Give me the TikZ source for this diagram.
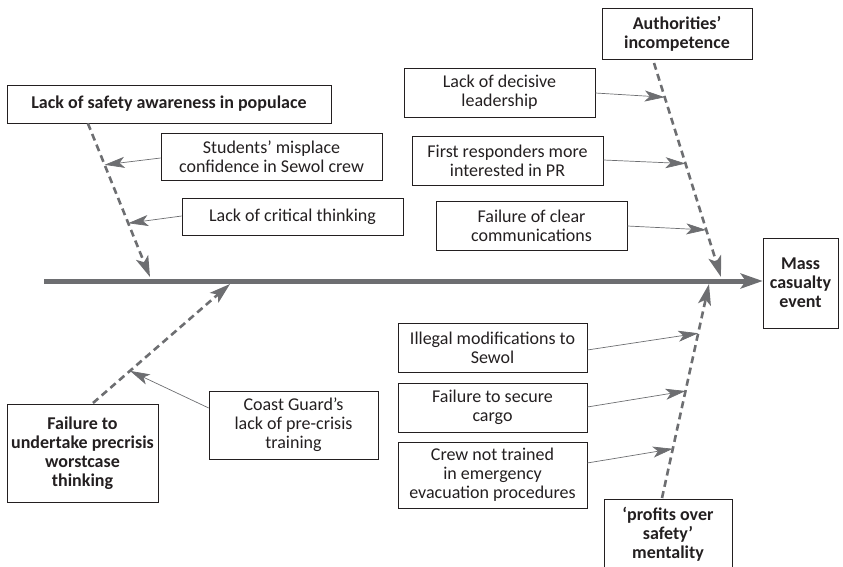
\documentclass[tikz,border=0pt]{standalone}
\usepackage{fontspec}
\setmainfont{Carlito}
\usetikzlibrary{calc,arrows.meta}
\definecolor{bonegray}{HTML}{6D6E71}
\definecolor{inkblack}{HTML}{231F20}

\begin{document}
\begin{tikzpicture}[x=1pt,y=-1pt,
	cause/.style={draw=inkblack, line width=0.6pt, align=center, inner sep=1pt,
		text=inkblack, font=\fontsize{18}{19}\selectfont},
	head/.style={cause, font=\fontsize{18}{19}\selectfont\bfseries},
	bone/.style={draw=bonegray, line width=2.6pt, dash pattern=on 7pt off 4.5pt,
		-{Stealth[length=21pt,width=13pt,inset=5pt]}},
	twig/.style={draw=bonegray, line width=0.7pt,
		-{Stealth[length=20pt,width=11pt,inset=5pt]}}]
	\useasboundingbox (0,0) rectangle (843,567);

	%effect
	\node[head, minimum width=75, minimum height=90] (mass) at (800.5,283) {Mass\\casualty\\event};

	%main causes
	\node[head, minimum width=324, minimum height=38] (safety) at (169,104) {Lack of safety awareness in populace};
	\node[head, minimum width=150, minimum height=51] (auth) at (677,33.5) {Authorities’\\incompetence};
	\node[head, minimum width=151, minimum height=98] (worst) at (82.5,453) {Failure to\\undertake precrisis\\worstcase\\thinking};
	\node[head, minimum width=128, minimum height=70] (profit) at (668,534) {‘profits over\\safety’\\mentality};

	%sub causes (top left)
	\node[cause, minimum width=221, minimum height=47] (misplace) at (271.5,156.5) {Students’ misplace\\confidence in Sewol crew};
	\node[cause, minimum width=221, minimum height=37] (critical) at (292.5,216.5) {Lack of critical thinking};

	%sub causes (top right)
	\node[cause, minimum width=191, minimum height=49] (leader) at (499.5,92.5) {Lack of decisive\\leadership};
	\node[cause, minimum width=191, minimum height=49] (pr) at (507.5,160.5) {First responders more\\interested in PR};
	\node[cause, minimum width=191, minimum height=49] (comms) at (531.5,225.5) {Failure of clear\\communications};

	%sub causes (bottom)
	\node[cause, minimum width=169, minimum height=68] (coast) at (293.5,425) {Coast Guard’s\\lack of pre-crisis\\training};
	\node[cause, minimum width=189, minimum height=49] (illegal) at (492.5,347.5) {Illegal modifications to\\Sewol};
	\node[cause, minimum width=189, minimum height=49] (cargo) at (492.5,407.5) {Failure to secure\\cargo};
	\node[cause, minimum width=189, minimum height=66] (crew) at (492.5,475) {Crew not trained\\in emergency\\evacuation procedures};

	%spine
	\coordinate (tail) at (44,281);
	\draw[draw=bonegray, line width=5pt, -{Stealth[length=22pt,width=15pt,inset=5pt]}] (tail) -- (mass.west |- tail);

	%bone ends
	\coordinate (b1s) at ($(safety.south west)!0.25!(safety.south east)$);
	\coordinate (b1e) at (150,277);
	\coordinate (b2s) at (654,63);
	\coordinate (b2e) at (721,277);
	\coordinate (b3s) at (662,498);
	\coordinate (b3e) at (709,284);
	\coordinate (b4s) at (93,403);
	\coordinate (b4e) at (230,284);

	%dashed bones
	\draw[bone] (b1s) -- (b1e);
	\draw[bone] (b2s) -- (b2e);
	\draw[bone] (b3s) -- (b3e);
	\draw[bone] (b4s) -- (b4e);

	%thin arrows onto the bones
	\draw[twig] (misplace.west |- 0,158) -- ($(b1s)!0.27!(b1e)$);
	\draw[twig] (critical.west |- 0,216) -- ($(b1s)!0.65!(b1e)$);
	\draw[twig] (leader.east |- 0,93) -- ($(b2s)!0.16!(b2e)$);
	\draw[twig] (pr.east |- 0,160) -- ($(b2s)!0.47!(b2e)$);
	\draw[twig] (comms.east |- 0,226) -- ($(b2s)!0.78!(b2e)$);
	\draw[twig] (illegal.east |- 0,350) -- ($(b3s)!0.77!(b3e)$);
	\draw[twig] (cargo.east |- 0,407) -- ($(b3s)!0.5!(b3e)$);
	\draw[twig] (crew.east |- 0,463) -- ($(b3s)!0.23!(b3e)$);
	\draw[twig] (coast.west |- 0,408) -- ($(b4s)!0.27!(b4e)$);
\end{tikzpicture}
\end{document}
